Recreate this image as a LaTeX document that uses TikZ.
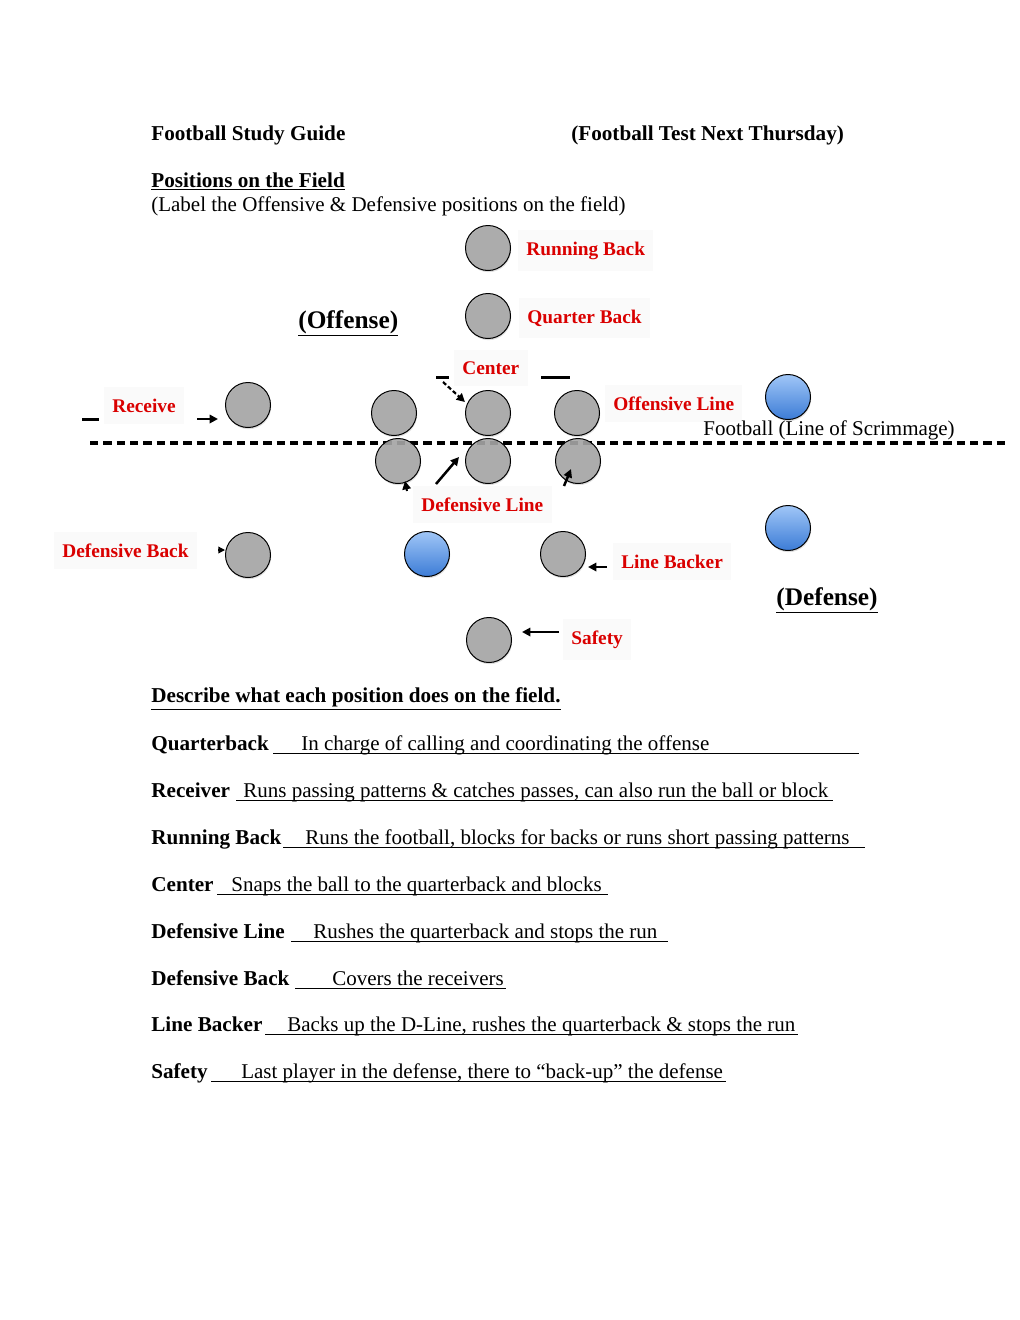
\documentclass[tikz,border=0pt]{standalone}
\usepackage{fontspec}
\setmainfont{Liberation Serif}
\usetikzlibrary{arrows.meta,shadows}
\definecolor{myred}{RGB}{218,0,0}
\definecolor{pgray}{RGB}{166,166,166}
\definecolor{btop}{RGB}{160,198,247}
\definecolor{bbot}{RGB}{60,124,214}
\begin{document}
\begin{tikzpicture}[x=0.6pt,y=-0.6pt,
  txt/.style={anchor=base west,inner sep=0pt,font=\fontsize{12.6}{14}\selectfont},
  btxt/.style={txt,font=\fontsize{12.7}{14}\selectfont\bfseries},
  big/.style={txt,font=\fontsize{15.2}{17}\selectfont\bfseries},
  lbl/.style={anchor=base west,text=myred,font=\fontsize{11.6}{14}\selectfont\bfseries,fill=black!2,inner xsep=5pt,inner ysep=7pt,xshift=-5pt},
  player/.style={circle,draw=black,line width=0.6pt,fill=pgray,fill opacity=0.88,text opacity=1,minimum size=27pt,inner sep=0pt,drop shadow={opacity=0.25,shadow xshift=0.4pt,shadow yshift=-1pt}},
  ball/.style={circle,draw=black,line width=0.6pt,top color=btop,bottom color=bbot,minimum size=27pt,inner sep=0pt,drop shadow={opacity=0.25,shadow xshift=0.4pt,shadow yshift=-1pt}},
  arr/.style={line width=1.5pt,-{Triangle[length=5pt,width=5pt]}},
  bar/.style={line width=1.8pt},
  uline/.style={line width=0.5pt}]
\useasboundingbox (0,0) rectangle (1020,1320);

% header
\node[btxt] (title) at (151,140) {Football Study Guide};
\node[btxt] (test) at (571,140) {(Football Test Next Thursday)};
\node[btxt] (pos) at (151,187) {\underline{Positions on the Field}};
\node[txt] (inst) at (151,211) {(Label the Offensive \& Defensive positions on the field)};

% line of scrimmage
\coordinate (los1) at (90,443);
\coordinate (los2) at (1005,443);
\draw[line width=1.9pt,dash pattern=on 5pt off 3pt] (los1) -- (los2);

% offense
\node[player] (rb) at (488,248) {};
\node[player] (qb) at (488,316) {};
\node[player] (ol1) at (394,413) {};
\node[player] (ctr) at (488,413) {};
\node[player] (ol3) at (577,413) {};
\node[player] (wr) at (248,405) {};
\node[ball] (fb1) at (788,397) {};

% defense
\node[player] (dl1) at (398,461) {};
\node[player] (dl2) at (488,461) {};
\node[player] (dl3) at (578,461) {};
\node[player] (db) at (248,555) {};
\node[ball] (fb2) at (427,554) {};
\node[player] (lb) at (563,554) {};
\node[ball] (fb3) at (788,528) {};
\node[player] (sf) at (489,640) {};

% short arrows at the defensive line
\coordinate (dla1) at (407,491);
\coordinate (dla2) at (405,481);
\draw[arr,line width=1.2pt] (dla1) -- (dla2);
\coordinate (dla3) at (564,486);
\coordinate (dla4) at (571,469);
\draw[arr] (dla3) -- (dla4);
\coordinate (dba1) at (218,550);
\coordinate (dba2) at (225,550);
\draw[line width=0.8pt,-{Triangle[length=4pt,width=4pt]}] (dba1) -- (dba2);

% labels
\node[lbl] (lrb) at (526,255) {Running Back};
\node[lbl] (lqb) at (527,323) {Quarter Back};
\node[big] (off) at (298,328) {\underline{(Offense)}};
\node[lbl] (lc) at (462,374) {Center};
\node[lbl] (lwr) at (112,412) {Receive};
\node[lbl] (lol) at (613,410) {Offensive Line};
\node[txt] (scr) at (703,435) {Football (Line of Scrimmage)};
\node[lbl] (ldl) at (421,511) {Defensive Line};
\node[lbl] (ldb) at (62,557) {Defensive Back};
\node[lbl] (llb) at (621,568) {Line Backer};
\node[big] (def) at (776,605) {\underline{(Defense)}};
\node[lbl] (lsf) at (571,644) {Safety};

% marks and arrows
\coordinate (cd1) at (436,377); \coordinate (cd2) at (449,377);
\draw[bar] (cd1) -- (cd2);
\coordinate (cd3) at (541,377); \coordinate (cd4) at (570,377);
\draw[bar] (cd3) -- (cd4);
\coordinate (ca1) at (443,382); \coordinate (ca2) at (465,402);
\draw[arr,line width=1.3pt,dash pattern=on 2.5pt off 1.5pt] (ca1) -- (ca2);
\coordinate (rd1) at (82,419); \coordinate (rd2) at (99,419);
\draw[bar] (rd1) -- (rd2);
\coordinate (ra1) at (197,419); \coordinate (ra2) at (218,419);
\draw[arr] (ra1) -- (ra2);
\coordinate (da1) at (436,484); \coordinate (da2) at (459,457);
\draw[arr] (da1) -- (da2);
\coordinate (la1) at (607,567); \coordinate (la2) at (588,567);
\draw[arr] (la1) -- (la2);
\coordinate (sa1) at (559,632); \coordinate (sa2) at (522,632);
\draw[arr] (sa1) -- (sa2);

% descriptions
\node[btxt] (desc) at (151,702) {\underline{Describe what each position does on the field.}};

\node[btxt] (t1) at (151,750) {Quarterback};
\coordinate (u1a) at (273,753); \coordinate (u1b) at (859,753);
\draw[uline] (u1a) -- (u1b);
\node[txt] (d1) at (301,750) {In charge of calling and coordinating the offense};

\node[btxt] (t2) at (151,797) {Receiver};
\coordinate (u2a) at (236,800); \coordinate (u2b) at (833,800);
\draw[uline] (u2a) -- (u2b);
\node[txt] (d2) at (243,797) {Runs passing patterns \& catches passes, can also run the ball or block};

\node[btxt] (t3) at (151,844) {Running Back};
\coordinate (u3a) at (283,847); \coordinate (u3b) at (865,847);
\draw[uline] (u3a) -- (u3b);
\node[txt] (d3) at (305,844) {Runs the football, blocks for backs or runs short passing patterns};

\node[btxt] (t4) at (151,891) {Center};
\coordinate (u4a) at (217,894); \coordinate (u4b) at (608,894);
\draw[uline] (u4a) -- (u4b);
\node[txt] (d4) at (231,891) {Snaps the ball to the quarterback and blocks};

\node[btxt] (t5) at (151,938) {Defensive Line};
\coordinate (u5a) at (291,941); \coordinate (u5b) at (668,941);
\draw[uline] (u5a) -- (u5b);
\node[txt] (d5) at (313,938) {Rushes the quarterback and stops the run};

\node[btxt] (t6) at (151,985) {Defensive Back};
\coordinate (u6a) at (295,988); \coordinate (u6b) at (506,988);
\draw[uline] (u6a) -- (u6b);
\node[txt] (d6) at (332,985) {Covers the receivers};

\node[btxt] (t7) at (151,1031) {Line Backer};
\coordinate (u7a) at (265,1034); \coordinate (u7b) at (798,1034);
\draw[uline] (u7a) -- (u7b);
\node[txt] (d7) at (287,1031) {Backs up the D-Line, rushes the quarterback \& stops the run};

\node[btxt] (t8) at (151,1078) {Safety};
\coordinate (u8a) at (211,1081); \coordinate (u8b) at (726,1081);
\draw[uline] (u8a) -- (u8b);
\node[txt] (d8) at (241,1078) {Last player in the defense, there to “back-up” the defense};
\end{tikzpicture}
\end{document}
